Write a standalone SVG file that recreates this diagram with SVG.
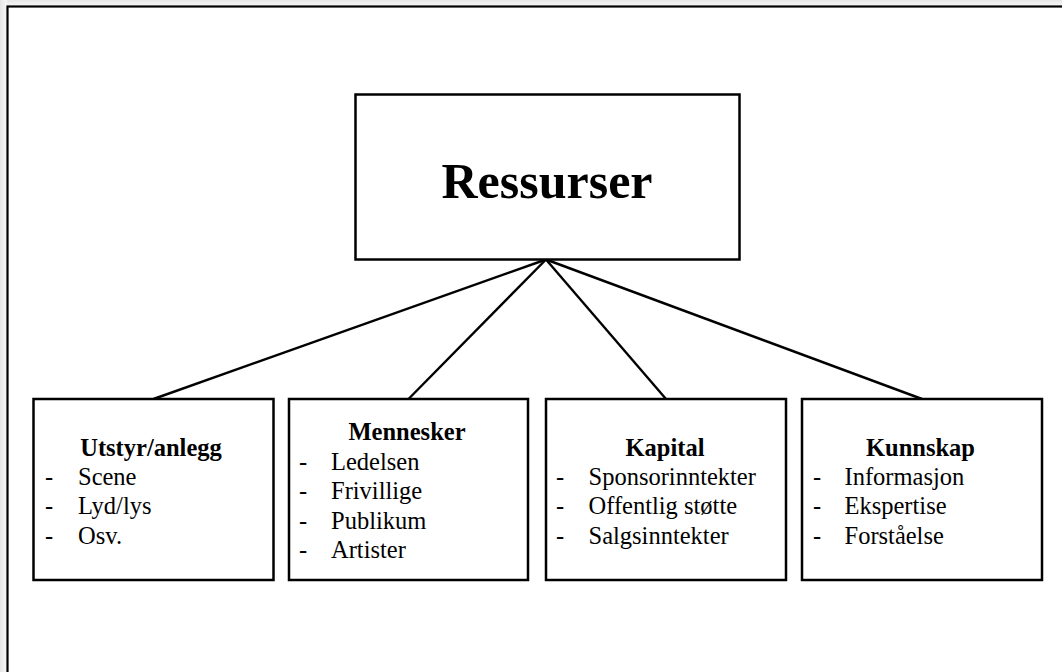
<svg xmlns="http://www.w3.org/2000/svg" width="1062" height="672" viewBox="0 0 1062 672">
  <defs>
    <linearGradient id="edgeTop" x1="0" y1="0" x2="0" y2="1">
      <stop offset="0" stop-color="#e6e6e6"/>
      <stop offset="1" stop-color="#f8f8f8"/>
    </linearGradient>
    <linearGradient id="edgeLeft" x1="0" y1="0" x2="1" y2="0">
      <stop offset="0" stop-color="#e6e6e6"/>
      <stop offset="1" stop-color="#f8f8f8"/>
    </linearGradient>
  </defs>
  <style>
    .frame { fill: #ffffff; stroke: #000000; stroke-width: 2.2; }
    .box { fill: #ffffff; stroke: #000000; stroke-width: 2.5; }
    .link { stroke: #000000; stroke-width: 2.4; fill: none; }
    .title { font-family: "Liberation Serif", "Times New Roman", serif; font-weight: bold; font-size: 24.5px; fill: #000000; text-anchor: middle; }
    .main { font-family: "Liberation Serif", "Times New Roman", serif; font-weight: bold; font-size: 50px; fill: #000000; text-anchor: middle; }
    .item { font-family: "Liberation Serif", "Times New Roman", serif; font-size: 24.5px; fill: #000000; }
  </style>

  <!-- page background and shaded margin -->
  <rect x="0" y="0" width="1062" height="672" fill="#ffffff"/>
  <rect x="0" y="0" width="1062" height="6" fill="url(#edgeTop)"/>
  <rect x="0" y="0" width="7" height="672" fill="url(#edgeLeft)"/>

  <!-- page frame -->
  <rect class="frame" x="7.5" y="6.5" width="1062" height="672"/>

  <!-- connectors from the root box to the four categories -->
  <g id="connectors">
    <line class="link" x1="546" y1="259.5" x2="153.5" y2="399"/>
    <line class="link" x1="546" y1="259.5" x2="408.5" y2="399"/>
    <line class="link" x1="546" y1="259.5" x2="666" y2="399"/>
    <line class="link" x1="546" y1="259.5" x2="922" y2="399"/>
  </g>

  <!-- root -->
  <g id="ressurser">
    <rect class="box" x="355.5" y="94.5" width="384" height="165"/>
    <text class="main" x="547" y="198">Ressurser</text>
  </g>

  <!-- equipment -->
  <g id="utstyr">
    <rect class="box" x="33.5" y="399" width="240" height="181"/>
    <text class="title" x="151" y="455.5">Utstyr/anlegg</text>
    <text class="item" x="45" y="484.5">-</text>
    <text class="item" x="78" y="484.5">Scene</text>
    <text class="item" x="45" y="514">-</text>
    <text class="item" x="78" y="514">Lyd/lys</text>
    <text class="item" x="45" y="543.5">-</text>
    <text class="item" x="78" y="543.5">Osv.</text>
  </g>

  <!-- people -->
  <g id="mennesker">
    <rect class="box" x="289" y="399" width="239" height="181"/>
    <text class="title" x="407" y="440">Mennesker</text>
    <text class="item" x="299" y="469.5">-</text>
    <text class="item" x="331" y="469.5">Ledelsen</text>
    <text class="item" x="299" y="499">-</text>
    <text class="item" x="331" y="499">Frivillige</text>
    <text class="item" x="299" y="528.5">-</text>
    <text class="item" x="331" y="528.5">Publikum</text>
    <text class="item" x="299" y="558">-</text>
    <text class="item" x="331" y="558">Artister</text>
  </g>

  <!-- capital -->
  <g id="kapital">
    <rect class="box" x="546" y="399" width="240" height="181"/>
    <text class="title" x="665" y="455.5">Kapital</text>
    <text class="item" x="556" y="484.5">-</text>
    <text class="item" x="588.5" y="484.5">Sponsorinntekter</text>
    <text class="item" x="556" y="514">-</text>
    <text class="item" x="588.5" y="514">Offentlig støtte</text>
    <text class="item" x="556" y="543.5">-</text>
    <text class="item" x="588.5" y="543.5">Salgsinntekter</text>
  </g>

  <!-- knowledge -->
  <g id="kunnskap">
    <rect class="box" x="802" y="399" width="240" height="181"/>
    <text class="title" x="920.5" y="455.5">Kunnskap</text>
    <text class="item" x="813" y="484.5">-</text>
    <text class="item" x="844.5" y="484.5">Informasjon</text>
    <text class="item" x="813" y="514">-</text>
    <text class="item" x="844.5" y="514">Ekspertise</text>
    <text class="item" x="813" y="543.5">-</text>
    <text class="item" x="844.5" y="543.5">Forståelse</text>
  </g>
</svg>
